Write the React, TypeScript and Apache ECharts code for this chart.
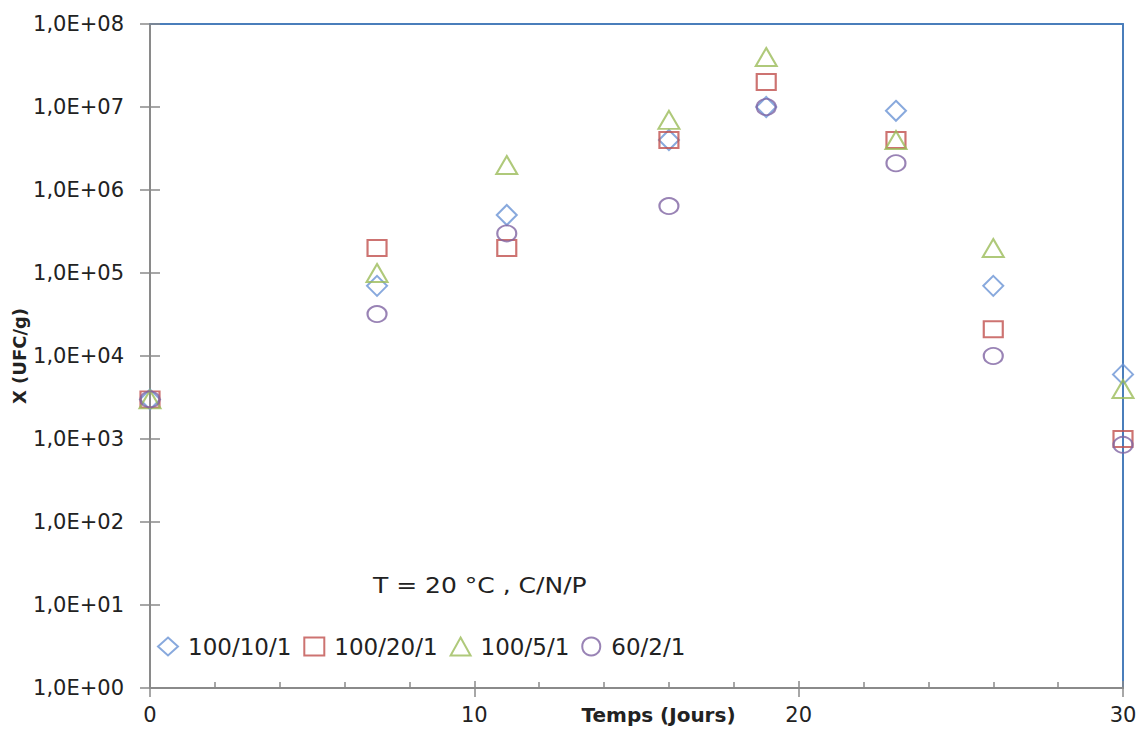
import React, { useEffect, useRef } from "react";
import * as echarts from "echarts";

const days = [0, 7, 11, 16, 19, 23, 26, 30];
const s100_10_1 = [3000, 70000, 500000, 4000000, 10000000, 9000000, 70000, 6000];
const s100_20_1 = [3000, 200000, 200000, 4000000, 20000000, 4000000, 21000, 1000];
const s100_5_1 = [3000, 100000, 2000000, 7000000, 40000000, 4000000, 200000, 4000];
const s60_2_1 = [3000, 32000, 300000, 640000, 10000000, 2100000, 10000, 850];
const seriesNames = ["100/10/1", "100/20/1", "100/5/1", "60/2/1"];
const yTickLabels = ["1,0E+00", "1,0E+01", "1,0E+02", "1,0E+03", "1,0E+04", "1,0E+05", "1,0E+06", "1,0E+07", "1,0E+08"];
const xTickLabels = ["0", "10", "20", "30"];

const FONT = "DejaVu Sans";
const GRAY = "#8a8a8a";
const BLUE = "#4a7ebb";

export default function App() {
  const ref = useRef<HTMLDivElement>(null);
  useEffect(() => {
    if (!ref.current) return;
    const chart = echarts.init(ref.current, undefined, { renderer: "svg" });
    const mk = (vals: number[]) => days.map((d, i) => [d, vals[i]]);
    const styles = [
      { symbol: "diamond", size: [20, 20], color: "#6a93d4" },
      { symbol: "rect", size: [19, 16], color: "#c0504d" },
      { symbol: "triangle", size: [21, 18], color: "#9bbb59" },
      { symbol: "circle", size: [19, 16], color: "#8064a2" },
    ];
    const data = [s100_10_1, s100_20_1, s100_5_1, s60_2_1];
    const box = { left: 150, right: 17, top: 24, bottom: 41, outerBoundsMode: "none", containLabel: false };
    const hidden = {
      axisLine: { show: false, onZero: false },
      axisTick: { show: false },
      axisLabel: { show: false },
      splitLine: { show: false },
    };
    chart.setOption({
      animation: false,
      backgroundColor: "#fff",
      grid: [box, box, box],
      legend: {
        left: 152,
        top: 630,
        itemWidth: 20,
        itemHeight: 18,
        itemGap: 12,
        data: seriesNames,
        textStyle: { fontFamily: FONT, fontSize: 23, color: "#222", padding: [0, 0, 0, 5] },
      },
      xAxis: [
        {
          gridIndex: 0,
          type: "value",
          min: 0,
          max: 30,
          interval: 10,
          position: "bottom",
          axisLine: { show: true, onZero: false, lineStyle: { color: GRAY, width: 2 } },
          axisTick: { show: true, inside: false, length: 9, lineStyle: { color: GRAY, width: 1.5 } },
          axisLabel: {
            margin: 16,
            fontFamily: FONT,
            fontSize: 21,
            color: "#222",
            formatter: (v: number) => xTickLabels[Math.round(v / 10)],
          },
          splitLine: { show: false },
          name: "Temps (Jours)",
          nameLocation: "middle",
          nameGap: 17,
          nameMoveOverlap: false,
          nameTextStyle: { fontFamily: FONT, fontWeight: "bold", fontSize: 20, color: "#222", padding: [0, 0, 0, 44] },
        },
        {
          gridIndex: 1,
          type: "value",
          min: 0,
          max: 30,
          interval: 10,
          position: "bottom",
          ...hidden,
          axisTick: { show: true, inside: true, length: 7, lineStyle: { color: GRAY, width: 1.5 } },
          minorTick: { show: true, splitNumber: 5, length: 6, lineStyle: { color: GRAY, width: 1.5 } },
        },
        {
          gridIndex: 2,
          type: "value",
          min: 0,
          max: 30,
          position: "top",
          ...hidden,
          axisLine: { show: true, onZero: false, lineStyle: { color: BLUE, width: 2 } },
        },
      ],
      yAxis: [
        {
          gridIndex: 0,
          type: "log",
          logBase: 10,
          min: 1,
          max: 1e8,
          interval: 1,
          position: "left",
          axisLine: { show: true, onZero: false, lineStyle: { color: GRAY, width: 2 } },
          axisTick: { show: true, inside: false, length: 10, lineStyle: { color: GRAY, width: 1.5 } },
          axisLabel: {
            margin: 26,
            fontFamily: FONT,
            fontSize: 21,
            color: "#222",
            formatter: (v: number) => yTickLabels[Math.round(Math.log10(v))],
          },
          splitLine: { show: false },
          name: "X (UFC/g)",
          nameLocation: "middle",
          nameGap: 122,
          nameMoveOverlap: false,
          nameTextStyle: { fontFamily: FONT, fontWeight: "bold", fontSize: 18, color: "#222" },
        },
        {
          gridIndex: 1,
          type: "log",
          logBase: 10,
          min: 1,
          max: 1e8,
          interval: 1,
          position: "left",
          ...hidden,
          axisTick: { show: true, inside: true, length: 10, lineStyle: { color: GRAY, width: 1.5 } },
        },
        {
          gridIndex: 2,
          type: "log",
          logBase: 10,
          min: 1,
          max: 1e8,
          position: "right",
          ...hidden,
          axisLine: { show: true, onZero: false, lineStyle: { color: BLUE, width: 2 } },
        },
      ],
      graphic: [
        {
          type: "text",
          left: 373,
          top: 575,
          scaleX: 1.19,
          style: { text: "T = 20 °C , C/N/P", font: `21px '${FONT}'`, fill: "#222" },
        },
      ],
      series: data.map((vals, i) => ({
        type: "scatter",
        name: seriesNames[i],
        xAxisIndex: 0,
        yAxisIndex: 0,
        symbol: styles[i].symbol,
        symbolSize: styles[i].size,
        clip: false,
        z: 5,
        itemStyle: { color: "rgba(0,0,0,0)", borderColor: styles[i].color, borderWidth: 2 },
        data: mk(vals),
      })),
    });
    return () => chart.dispose();
  }, []);
  return <div ref={ref} style={{ position: "fixed", left: 0, top: 0, width: 1140, height: 729 }} />;
}
